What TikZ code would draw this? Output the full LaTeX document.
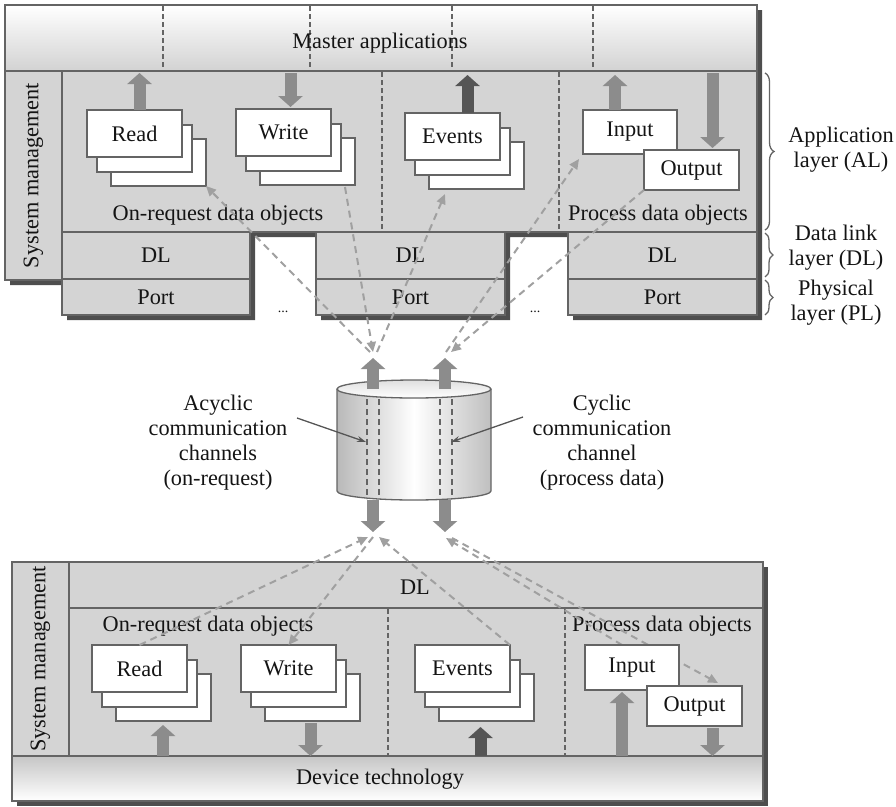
\documentclass[tikz,border=0pt]{standalone}
\usepackage{fontspec}
\setmainfont{Liberation Serif}
\usetikzlibrary{arrows.meta,decorations.pathreplacing,calc}
\definecolor{facegray}{RGB}{212,212,212}
\definecolor{linegray}{RGB}{100,100,100}
\definecolor{shadowgray}{RGB}{78,78,78}
\definecolor{arrowgray}{RGB}{140,140,140}
\definecolor{arrowdark}{RGB}{85,85,85}
\definecolor{dashgray}{RGB}{160,160,160}
\definecolor{txt}{RGB}{20,20,20}
\newcommand{\pilebox}[4]{%
  \node[wbox] (#1c) at ($(#2,#3)+(24,29)$) {};
  \node[wbox] (#1b) at ($(#2,#3)+(10,15)$) {};
  \node[wbox] (#1) at (#2,#3) {#4};}
\begin{document}
\begin{tikzpicture}[x=1pt,y=-1pt,
  every node/.style={inner sep=0pt, outer sep=0pt, text=txt, font=\fontsize{22.3}{25}\selectfont},
  face/.style={draw=linegray, fill=facegray, line width=1.5pt, anchor=north west},
  wbox/.style={draw=linegray, fill=white, line width=1.5pt, anchor=north west, minimum width=95pt, minimum height=47pt},
  divider/.style={draw=linegray, line width=1.3pt, dash pattern=on 5pt off 3pt},
  barrow/.style={draw=arrowgray, line width=12pt, -{Triangle[width=24pt,length=11pt]}},
  barrowdark/.style={barrow, draw=arrowdark},
  link/.style={draw=dashgray, line width=2pt, dash pattern=on 7pt off 5pt, -{Triangle[width=9pt,length=10pt]}},
  chan/.style={draw=linegray, line width=1.3pt, dash pattern=on 6pt off 4pt},
  pointer/.style={draw=arrowdark, line width=1.3pt, -{Stealth[length=9pt,width=6pt]}},
  bracestyle/.style={draw=linegray, line width=1.3pt, decorate, decoration={brace, amplitude=9pt}},
  lbl/.style={align=center}
]
\useasboundingbox (0,0) rectangle (896,806);

% ---------- top block (master) ----------
\fill[shadowgray] (10,10) -- (762,10) -- (762,320) -- (573,320) -- (573,237) -- (510,237) -- (510,320)
  -- (321,320) -- (321,237) -- (255,237) -- (255,320) -- (67,320) -- (67,285) -- (10,285) -- cycle;
\node[face, top color=white, bottom color=gray!35, minimum width=752pt, minimum height=66pt] (master) at (5,5) {};
\node[face, minimum width=57pt, minimum height=209pt] (sysT) at (5,71) {};
\node[face, minimum width=695pt, minimum height=161pt] (alT) at (62,71) {};
\node[face, minimum width=188pt, minimum height=47pt] (dlL) at (62,232) {DL};
\node[face, minimum width=188pt, minimum height=36pt] (portL) at (62,279) {Port};
\node[face, minimum width=189pt, minimum height=47pt] (dlM) at (316,232) {DL};
\node[face, minimum width=189pt, minimum height=36pt] (portM) at (316,279) {Port};
\node[face, minimum width=189pt, minimum height=47pt] (dlR) at (568,232) {DL};
\node[face, minimum width=189pt, minimum height=36pt] (portR) at (568,279) {Port};

\foreach \xx in {163,310,452,593} \draw[divider] (\xx,6) -- (\xx,70);
\foreach \xx in {382,559} \draw[divider] (\xx,72) -- (\xx,231);

\node (mastertxt) at (380,43) {Master applications};
\node[rotate=90] (systxtT) at (sysT.center) {System management};
\node (ondT) at (218,215) {On-request data objects};
\node (pdoT) at (658,215) {Process data objects};
\node (dotsA) at (283,312) {\fontsize{14}{16}\selectfont ...};
\node (dotsB) at (535,312) {\fontsize{14}{16}\selectfont ...};

% ---------- bottom block (device) ----------
\fill[shadowgray] (17,567) rectangle (768,806);
\node[face, minimum width=57pt, minimum height=194pt] (sysB) at (12,562) {};
\node[face, minimum width=694pt, minimum height=46pt] (dlB) at (69,562) {};
\node[face, minimum width=694pt, minimum height=148pt] (alB) at (69,608) {};
\node[face, top color=gray!45, bottom color=white, minimum width=751pt, minimum height=45pt] (devB) at (12,756) {};
\foreach \xx in {388,565} \draw[divider] (\xx,609) -- (\xx,755);

\node (dlBtxt) at (415,587) {DL};
\node[rotate=90] (systxtB) at (sysB.center) {System management};
\node (ondB) at (208,626) {On-request data objects};
\node (pdoB) at (662,626) {Process data objects};
\node (devtxt) at (380,779) {Device technology};

% ---------- cylinder ----------
\path[left color=gray!55, right color=gray!50, middle color=white]
  (337,389) -- (337,491) arc[start angle=180, end angle=0, x radius=77, y radius=9] -- (491,389) -- cycle;
\draw[linegray, line width=1.3pt] (337,389) -- (337,491) arc[start angle=180, end angle=0, x radius=77, y radius=9] -- (491,389);
\draw[linegray, line width=1.3pt, top color=gray!25, bottom color=white] (414,389) ellipse [x radius=77, y radius=9];
\node[inner sep=0pt, minimum size=0pt] (cyl) at (414,445) {};

\foreach \xx in {367,379,440,452} \draw[chan] (\xx,399) -- (\xx,499);

\coordinate (chLtop) at (373,389);
\coordinate (chRtop) at (445,389);
\coordinate (chLbot) at (373,500);
\coordinate (chRbot) at (445,500);
\draw[barrow] (chLtop) -- ++(0,-31);
\draw[barrow] (chRtop) -- ++(0,-31);
\draw[barrow] (chLbot) -- ++(0,32);
\draw[barrow] (chRbot) -- ++(0,32);

% channel tip coordinates for the dashed links
\coordinate (cLa) at (370,352);
\coordinate (cLb) at (373,352);
\coordinate (cLc) at (377,352);
\coordinate (cRa) at (446,352);
\coordinate (cRb) at (451,352);
\coordinate (cLd) at (368,537);
\coordinate (cLe) at (373,537);
\coordinate (cLf) at (379,537);
\coordinate (cRd) at (446,538);
\coordinate (cRe) at (452,538);

% ---------- boxes, top ----------
\pilebox{readT}{87}{110}{Read}
\pilebox{writeT}{236}{109}{Write}
\pilebox{eventsT}{405}{113}{Events}
\node[wbox, minimum width=94pt, minimum height=44pt] (inputT) at (583,110) {Input};
\node[wbox, minimum width=95pt, minimum height=40pt] (outputT) at (644,150) {Output};

% ---------- boxes, bottom ----------
\pilebox{readB}{92}{645}{Read}
\pilebox{writeB}{241}{645}{Write}
\pilebox{eventsB}{415}{645}{Events}

% ---------- dashed links ----------
\draw[link] (cLa) -- (readTc.south east);
\draw[link] ($(writeTc.south east)+(-10,2)$) -- (cLb);
\draw[link] (cLc) -- ($(eventsTc.south west)+(16,5)$);
\draw[link] (cRa) -- ($(inputT.south west)+(-4,5)$);
\draw[link] (outputT.south west) -- (cRb);

\draw[link] (readB.north) -- (cLd);
\draw[link] (cLe) -- (writeB.north);
\draw[link] (eventsB.north east) -- (cLf);
\draw[link] (622,645) -- (cRd);
\draw[link] (cRe) -- (718,683);

% process-data boxes, bottom (drawn over the links that pass behind them)
\node[wbox, minimum width=94pt, minimum height=45pt] (inputB) at (585,645) {Input};
\node[wbox, minimum width=95pt, minimum height=40pt] (outputB) at (647,686) {Output};

% ---------- block arrows, top ----------
\draw[barrow] ($(readT.north)+(5,0)$) -- ($(readT.north |- master.south)+(5,2)$);
\draw[barrow] ($(writeT.north |- master.south)+(7,2)$) -- ($(writeT.north)+(7,-2)$);
\draw[barrowdark] ($(eventsT.north)+(15,0)$) -- ($(eventsT.north |- master.south)+(15,4)$);
\draw[barrow] ($(inputT.north)+(-15,0)$) -- ($(inputT.north |- master.south)+(-15,4)$);
\draw[barrow] ($(outputT.north |- master.south)+(21,2)$) -- ($(outputT.north)+(21,-2)$);

% ---------- block arrows, bottom ----------
\draw[barrow] ($(readBc.south |- devB.north)+(-0.5,0)$) -- ($(readBc.south)+(-0.5,4)$);
\draw[barrow] ($(writeBc.south)+(-2,2)$) -- ($(writeBc.south |- devB.north)+(-2,0)$);
\draw[barrowdark] ($(eventsBc.south |- devB.north)+(-6,0)$) -- ($(eventsBc.south)+(-6,6)$);
\draw[barrow] ($(inputB.south |- devB.north)+(-10,0)$) -- ($(inputB.south)+(-10,2)$);
\draw[barrow] ($(outputB.south)+(18,2)$) -- ($(outputB.south |- devB.north)+(18,0)$);

% ---------- channel labels ----------
\node[lbl] (acyc) at (218,443) {Acyclic\\communication\\channels\\(on-request)};
\node[lbl] (cyc) at (602,443) {Cyclic\\communication\\channel\\(process data)};
\coordinate (acycFrom) at (297,418);
\coordinate (acycTo) at (366,442);
\coordinate (cycFrom) at (523,417);
\coordinate (cycTo) at (451,442);
\draw[pointer] (acycFrom) -- (acycTo);
\draw[pointer] (cycFrom) -- (cycTo);

% ---------- layer braces ----------
\coordinate (brALa) at (765,73);
\coordinate (brALb) at (765,230);
\coordinate (brDLa) at (765,233);
\coordinate (brDLb) at (765,277);
\coordinate (brPLa) at (765,280);
\coordinate (brPLb) at (765,315);
\draw[bracestyle] (brALa) -- (brALb);
\draw[bracestyle, decoration={brace, amplitude=8pt}] (brDLa) -- (brDLb);
\draw[bracestyle, decoration={brace, amplitude=8pt}] (brPLa) -- (brPLb);
\node[lbl] (allbl) at (841,150) {Application\\layer (AL)};
\node[lbl] (dllbl) at (836,248) {Data link\\layer (DL)};
\node[lbl] (pllbl) at (836,303) {Physical\\layer (PL)};
\end{tikzpicture}
\end{document}
